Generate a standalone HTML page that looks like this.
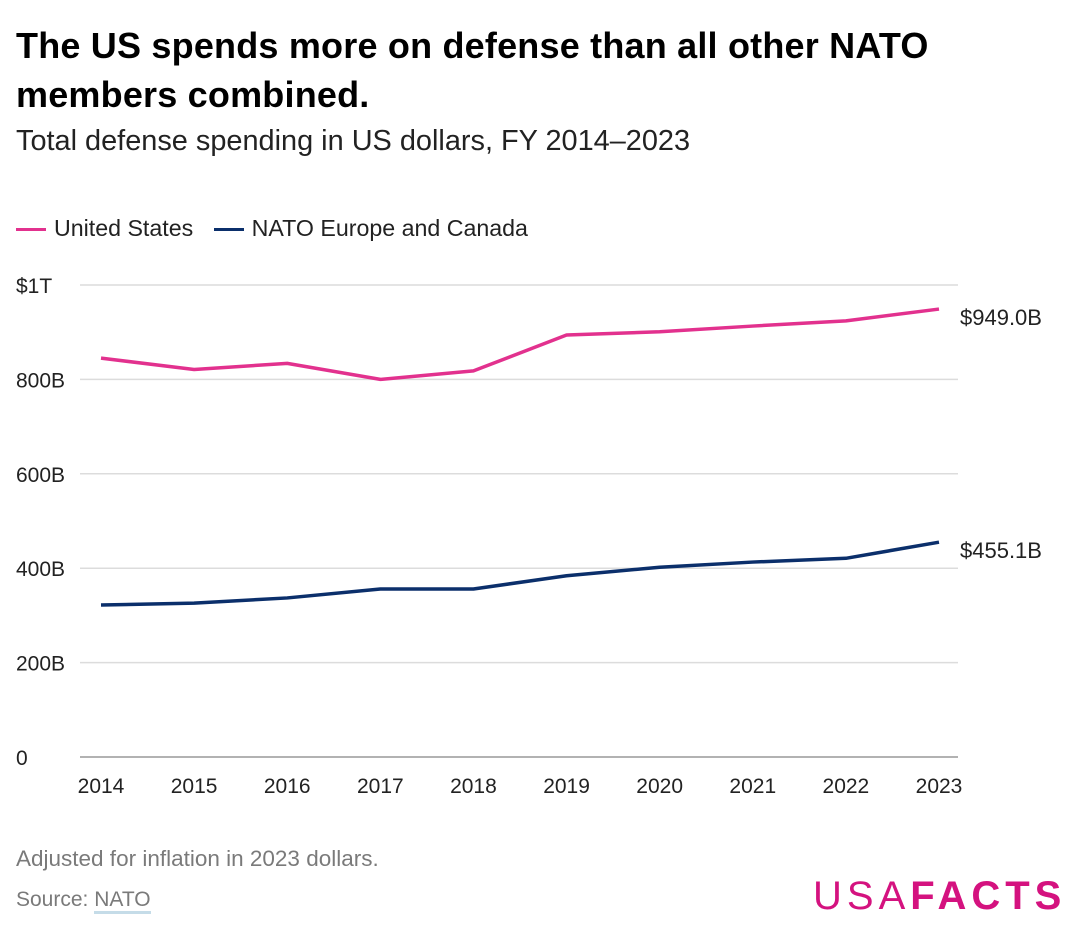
<!DOCTYPE html>
<html><head><meta charset="utf-8"><style>
body{margin:0;width:1080px;height:934px;background:#fff;font-family:"Liberation Sans",sans-serif;position:relative;overflow:hidden}
.t{position:absolute;white-space:nowrap}
</style></head><body>
<div class="t" style="left:16px;top:21px;font-size:36px;font-weight:bold;line-height:49px;color:#000;letter-spacing:0.2px">The US spends more on defense than all other NATO<br>members combined.</div>
<div class="t" style="left:16px;top:125px;font-size:28.9px;color:#222">Total defense spending in US dollars, FY 2014–2023</div>
<div class="t" style="left:16px;top:215px;font-size:23.2px;color:#222">
<span><span style="display:inline-block;width:30px;height:3px;background:#e2318e;vertical-align:middle;margin-right:8px"></span>United States</span>
<span style="margin-left:14px"><span style="display:inline-block;width:30px;height:3px;background:#0b2f6b;vertical-align:middle;margin-right:8px"></span>NATO Europe and Canada</span>
</div>
<svg id="chart" width="1080" height="934" style="position:absolute;left:0;top:0"></svg>
<div class="t" style="left:16px;top:846px;font-size:22.5px;color:#7a7a7a">Adjusted for inflation in 2023 dollars.</div>
<div class="t" style="left:16px;top:888px;font-size:21px;color:#7a7a7a">Source: <span style="border-bottom:3px solid #c5dce8">NATO</span></div>
<div class="t" style="left:813px;top:874px;font-size:40px;color:#d4127f;letter-spacing:5px"><span style="font-weight:300">USA</span><b>FACTS</b></div>
<script>
const years=[2014,2015,2016,2017,2018,2019,2020,2021,2022,2023];
const usValues=[845,821,834,800,818,894,901,913,924,949.0];
const natoValues=[322,326,337,356,356,384,402,413,421,455.1];
const yTicks=[0,200,400,600,800,1000];
const yTickLabels=["0","200B","400B","600B","800B","$1T"];
const svg=document.getElementById('chart');const NS='http://www.w3.org/2000/svg';
const x=i=>101+i*(939-101)/(years.length-1);
const y=v=>757-v*(757-285)/1000;
function mk(t,a){const e=document.createElementNS(NS,t);for(const k in a)e.setAttribute(k,a[k]);svg.appendChild(e);return e;}
yTicks.forEach((v,i)=>{
 const g=mk('line',{x1:80,x2:958,y1:y(v),y2:y(v),stroke:v===0?'#999':'#dcdcdc','stroke-width':1.5});
 
 
 const t=mk('text',{x:16,y:y(v)+8,'font-size':21,fill:'#222','font-family':'Liberation Sans'});t.textContent=yTickLabels[i];
 
 
});
years.forEach((yr,i)=>{
 const t=mk('text',{x:x(i),y:793,'font-size':21,fill:'#222','text-anchor':'middle','font-family':'Liberation Sans'});t.textContent=yr;
 
 
});
function line(vals,col,name){
 const p=mk('polyline',{points:vals.map((v,i)=>x(i)+','+y(v)).join(' '),fill:'none',stroke:col,'stroke-width':3.5,'stroke-linejoin':'round'});
 
 
 const last=vals.length-1;
 const t=mk('text',{x:960,y:y(vals[last])+16,'font-size':22,fill:'#222','font-family':'Liberation Sans'});t.textContent='$'+vals[last].toFixed(1)+'B';
 
 
}
line(usValues,'#e2318e','us-line');
line(natoValues,'#0b2f6b','nato-line');
</script>
</body></html>
